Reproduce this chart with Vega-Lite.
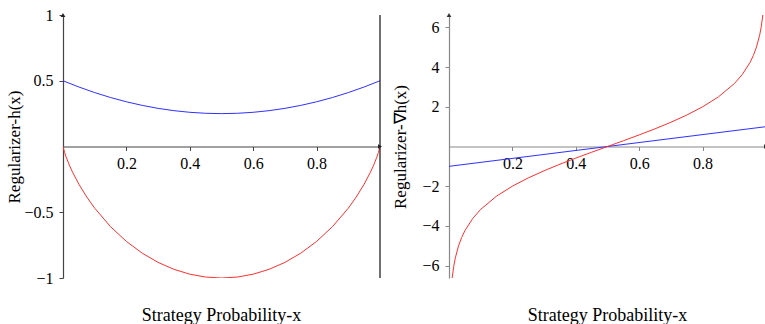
{
  "$schema": "https://vega.github.io/schema/vega-lite/v6.json",
  "padding": {"left": 5, "top": 7, "right": 0, "bottom": 0},
  "spacing": 8,
  "config": {
    "view": {"stroke": null},
    "axis": {"grid": false, "labelFont": "Liberation Serif", "labelFontSize": 16, "labelColor": "black", "titleFont": "Liberation Serif", "titleFontSize": 17, "titleFontWeight": "normal", "titleColor": "black", "tickSize": 4, "labelPadding": 6, "domainWidth": 1.2, "tickWidth": 1, "format": "~g"},
    "title": {"font": "Liberation Serif", "fontSize": 18, "fontWeight": "normal", "color": "black"}
  },
  "datasets": {
    "h": [
      {"x": 0, "y": 0.5, "series": "quadratic"},
      {"x": 0.05, "y": 0.4525, "series": "quadratic"},
      {"x": 0.1, "y": 0.41, "series": "quadratic"},
      {"x": 0.15, "y": 0.3725, "series": "quadratic"},
      {"x": 0.2, "y": 0.34, "series": "quadratic"},
      {"x": 0.25, "y": 0.3125, "series": "quadratic"},
      {"x": 0.3, "y": 0.29, "series": "quadratic"},
      {"x": 0.35, "y": 0.2725, "series": "quadratic"},
      {"x": 0.4, "y": 0.26, "series": "quadratic"},
      {"x": 0.45, "y": 0.2525, "series": "quadratic"},
      {"x": 0.5, "y": 0.25, "series": "quadratic"},
      {"x": 0.55, "y": 0.2525, "series": "quadratic"},
      {"x": 0.6, "y": 0.26, "series": "quadratic"},
      {"x": 0.65, "y": 0.2725, "series": "quadratic"},
      {"x": 0.7, "y": 0.29, "series": "quadratic"},
      {"x": 0.75, "y": 0.3125, "series": "quadratic"},
      {"x": 0.8, "y": 0.34, "series": "quadratic"},
      {"x": 0.85, "y": 0.3725, "series": "quadratic"},
      {"x": 0.9, "y": 0.41, "series": "quadratic"},
      {"x": 0.95, "y": 0.4525, "series": "quadratic"},
      {"x": 1, "y": 0.5, "series": "quadratic"},
      {"x": 0, "y": 0, "series": "entropy"},
      {"x": 0.005, "y": -0.0454, "series": "entropy"},
      {"x": 0.01, "y": -0.0808, "series": "entropy"},
      {"x": 0.02, "y": -0.1414, "series": "entropy"},
      {"x": 0.03, "y": -0.1944, "series": "entropy"},
      {"x": 0.05, "y": -0.2864, "series": "entropy"},
      {"x": 0.075, "y": -0.3843, "series": "entropy"},
      {"x": 0.1, "y": -0.469, "series": "entropy"},
      {"x": 0.15, "y": -0.6098, "series": "entropy"},
      {"x": 0.2, "y": -0.7219, "series": "entropy"},
      {"x": 0.25, "y": -0.8113, "series": "entropy"},
      {"x": 0.3, "y": -0.8813, "series": "entropy"},
      {"x": 0.35, "y": -0.9341, "series": "entropy"},
      {"x": 0.4, "y": -0.971, "series": "entropy"},
      {"x": 0.45, "y": -0.9928, "series": "entropy"},
      {"x": 0.5, "y": -1, "series": "entropy"},
      {"x": 0.55, "y": -0.9928, "series": "entropy"},
      {"x": 0.6, "y": -0.971, "series": "entropy"},
      {"x": 0.65, "y": -0.9341, "series": "entropy"},
      {"x": 0.7, "y": -0.8813, "series": "entropy"},
      {"x": 0.75, "y": -0.8113, "series": "entropy"},
      {"x": 0.8, "y": -0.7219, "series": "entropy"},
      {"x": 0.85, "y": -0.6098, "series": "entropy"},
      {"x": 0.9, "y": -0.469, "series": "entropy"},
      {"x": 0.925, "y": -0.3843, "series": "entropy"},
      {"x": 0.95, "y": -0.2864, "series": "entropy"},
      {"x": 0.97, "y": -0.1944, "series": "entropy"},
      {"x": 0.98, "y": -0.1414, "series": "entropy"},
      {"x": 0.99, "y": -0.0808, "series": "entropy"},
      {"x": 0.995, "y": -0.0454, "series": "entropy"},
      {"x": 1, "y": 0, "series": "entropy"}
    ],
    "grad": [
      {"x": 0, "y": -1, "series": "quadratic"},
      {"x": 0.5, "y": 0, "series": "quadratic"},
      {"x": 1, "y": 1, "series": "quadratic"},
      {"x": 0.01, "y": -6.629, "series": "entropy"},
      {"x": 0.015, "y": -6.037, "series": "entropy"},
      {"x": 0.02, "y": -5.615, "series": "entropy"},
      {"x": 0.03, "y": -5.015, "series": "entropy"},
      {"x": 0.04, "y": -4.585, "series": "entropy"},
      {"x": 0.05, "y": -4.248, "series": "entropy"},
      {"x": 0.075, "y": -3.625, "series": "entropy"},
      {"x": 0.1, "y": -3.17, "series": "entropy"},
      {"x": 0.15, "y": -2.5025, "series": "entropy"},
      {"x": 0.2, "y": -2, "series": "entropy"},
      {"x": 0.25, "y": -1.585, "series": "entropy"},
      {"x": 0.3, "y": -1.2224, "series": "entropy"},
      {"x": 0.35, "y": -0.8931, "series": "entropy"},
      {"x": 0.4, "y": -0.585, "series": "entropy"},
      {"x": 0.45, "y": -0.2895, "series": "entropy"},
      {"x": 0.5, "y": 0, "series": "entropy"},
      {"x": 0.55, "y": 0.2895, "series": "entropy"},
      {"x": 0.6, "y": 0.585, "series": "entropy"},
      {"x": 0.65, "y": 0.8931, "series": "entropy"},
      {"x": 0.7, "y": 1.2224, "series": "entropy"},
      {"x": 0.75, "y": 1.585, "series": "entropy"},
      {"x": 0.8, "y": 2, "series": "entropy"},
      {"x": 0.85, "y": 2.5025, "series": "entropy"},
      {"x": 0.9, "y": 3.17, "series": "entropy"},
      {"x": 0.925, "y": 3.625, "series": "entropy"},
      {"x": 0.95, "y": 4.248, "series": "entropy"},
      {"x": 0.96, "y": 4.585, "series": "entropy"},
      {"x": 0.97, "y": 5.015, "series": "entropy"},
      {"x": 0.98, "y": 5.615, "series": "entropy"},
      {"x": 0.985, "y": 6.037, "series": "entropy"},
      {"x": 0.99, "y": 6.629, "series": "entropy"}
    ]
  },
  "hconcat": [
    {
      "width": 317,
      "height": 263,
      "title": {"text": "Strategy Probability-x", "orient": "bottom", "offset": 21},
      "layer": [
        {
          "data": {"name": "h"},
          "mark": {"type": "line", "strokeWidth": 1, "clip": true},
          "encoding": {
            "x": {"field": "x", "type": "quantitative", "scale": {"domain": [0, 1], "nice": false, "zero": false},
                  "axis": {"orient": "bottom", "offset": -131.5, "values": [0.2, 0.4, 0.6, 0.8], "title": null, "domainColor": "#444", "tickColor": "#444", "labelPadding": 5}},
            "y": {"field": "y", "type": "quantitative", "scale": {"domain": [-1, 1], "nice": false},
                  "axis": {"values": [1, 0.5, -0.5, -1], "title": "Regularizer-h(x)", "titlePadding": 0, "domainColor": "#444", "tickColor": "#444"}},
            "color": {"field": "series", "type": "nominal", "scale": {"domain": ["quadratic", "entropy"], "range": ["#3030ff", "#ff3030"]}, "legend": null}
          }
        },
        {
          "data": {"values": [{}]},
          "mark": {"type": "rule", "color": "#222", "strokeWidth": 1.3},
          "encoding": {"x": {"datum": 1}, "y": {"datum": -1}, "y2": {"datum": 1}}
        },
        {
          "data": {"values": [{}]},
          "mark": {"type": "point", "shape": "triangle-up", "filled": true, "color": "#222", "size": 22, "opacity": 1},
          "encoding": {"x": {"datum": 0}, "y": {"datum": 1}}
        },
        {
          "data": {"values": [{}]},
          "mark": {"type": "point", "shape": "triangle-right", "filled": true, "color": "#222", "size": 22, "opacity": 1},
          "encoding": {"x": {"datum": 1}, "y": {"datum": 0}}
        }
      ]
    },
    {
      "width": 317,
      "height": 263,
      "title": {"text": "Strategy Probability-x", "orient": "bottom", "offset": 29},
      "layer": [
        {
          "data": {"name": "grad"},
          "mark": {"type": "line", "strokeWidth": 1, "clip": true},
          "encoding": {
            "x": {"field": "x", "type": "quantitative", "scale": {"domain": [0, 1], "nice": false, "zero": false},
                  "axis": {"orient": "bottom", "offset": -131.5, "values": [0.2, 0.4, 0.6, 0.8], "title": null, "domainColor": "#888", "tickColor": "#888", "labelPadding": 5}},
            "y": {"field": "y", "type": "quantitative", "scale": {"domain": [-6.63, 6.63], "nice": false},
                  "axis": {"values": [6, 4, 2, -2, -4, -6], "title": "Regularizer-∇h(x)", "titlePadding": 12, "domainColor": "#888", "tickColor": "#888"}},
            "color": {"field": "series", "type": "nominal", "scale": {"domain": ["quadratic", "entropy"], "range": ["#3030ff", "#ff3030"]}, "legend": null}
          }
        },
        {
          "data": {"values": [{}]},
          "mark": {"type": "rule", "color": "#bbb", "strokeWidth": 1},
          "encoding": {"x": {"datum": 1}, "y": {"datum": -5}, "y2": {"datum": 5}}
        },
        {
          "data": {"values": [{}]},
          "mark": {"type": "point", "shape": "triangle-up", "filled": true, "color": "#333", "size": 22, "opacity": 1},
          "encoding": {"x": {"datum": 0}, "y": {"datum": 6.63}}
        },
        {
          "data": {"values": [{}]},
          "mark": {"type": "point", "shape": "triangle-right", "filled": true, "color": "#333", "size": 22, "opacity": 1},
          "encoding": {"x": {"datum": 1}, "y": {"datum": 0}}
        }
      ]
    }
  ]
}
